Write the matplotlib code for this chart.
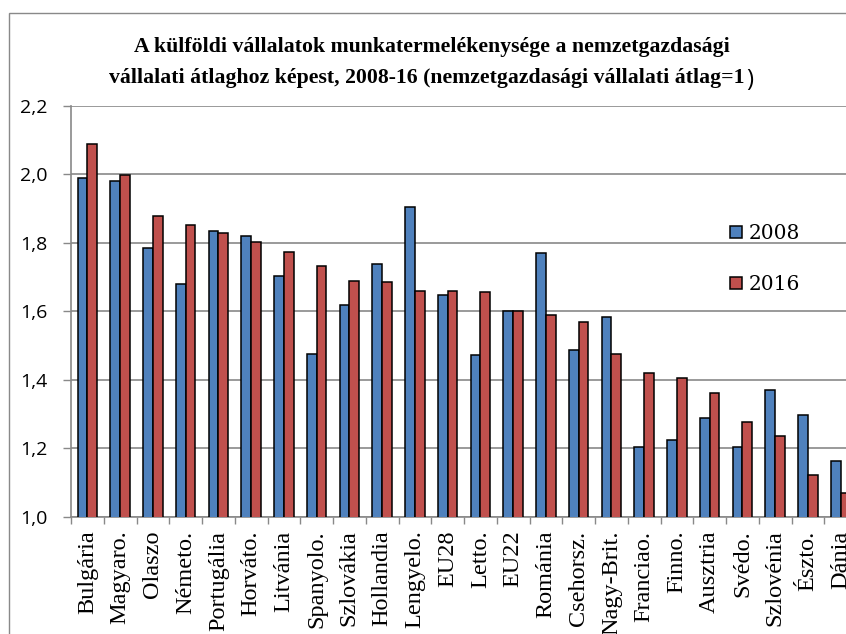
import numpy as np
import matplotlib
matplotlib.use("Agg")
import matplotlib.pyplot as plt
from matplotlib.lines import Line2D
from matplotlib.patches import Rectangle

countries = ["Bulgária", "Magyaro.", "Olaszo", "Németo.", "Portugália", "Horváto.", "Litvánia",
             "Spanyolo.", "Szlovákia", "Hollandia", "Lengyelo.", "EU28", "Letto.", "EU22",
             "Románia", "Csehorsz.", "Nagy-Brit.", "Franciao.", "Finno.", "Ausztria", "Svédo.",
             "Szlovénia", "Észto.", "Dánia"]
v2008 = [1.990, 1.980, 1.785, 1.679, 1.835, 1.820, 1.703, 1.476, 1.619, 1.738, 1.904, 1.647,
         1.473, 1.600, 1.770, 1.487, 1.583, 1.204, 1.225, 1.288, 1.203, 1.370, 1.296, 1.162]
v2016 = [2.088, 1.998, 1.878, 1.852, 1.827, 1.802, 1.773, 1.732, 1.688, 1.685, 1.660, 1.660,
         1.656, 1.600, 1.589, 1.568, 1.476, 1.419, 1.406, 1.362, 1.277, 1.236, 1.122, 1.069]
years = ["2008", "2016"]
yticks = [1.0, 1.2, 1.4, 1.6, 1.8, 2.0, 2.2]

title1 = "A külföldi vállalatok munkatermelékenysége a nemzetgazdasági"
title2 = "vállalati átlaghoz képest, 2008-16 (nemzetgazdasági vállalati átlag=1"

BLUE = "#4F81BD"
RED = "#C0504D"
GRAY = "#898989"
W, H = 846, 634

fig = plt.figure(figsize=(W / 100, H / 100), dpi=100)
# the plot area runs past the right edge, like the cropped original
ax = fig.add_axes([71 / W, 117.3 / H, 786 / W, 411 / H])

x = np.arange(len(countries))
bw = 0.3
ax.bar(x - bw / 2, v2008, bw, color=BLUE, edgecolor="black", linewidth=1.1, zorder=3)
ax.bar(x + bw / 2, v2016, bw, color=RED, edgecolor="black", linewidth=1.1, zorder=3)

ax.set_xlim(-0.5, len(countries) - 0.5)
ax.set_ylim(1.0, 2.2)
ax.set_yticks(yticks)
ax.set_yticklabels([f"{t:.1f}".replace(".", ",") for t in yticks],
                   fontfamily="Open Sans", fontsize=14)
ax.set_xticks(x)
ax.set_xticklabels(countries, rotation=90, fontfamily="Liberation Serif", fontsize=17.5)
ax.set_xticks(np.arange(-0.5, len(countries), 1), minor=True)
ax.tick_params(axis="x", which="major", length=0, pad=10)
ax.tick_params(axis="x", which="minor", length=5, color=GRAY, width=1)
ax.tick_params(axis="y", length=5.5, color=GRAY, width=1, pad=11.5)

ax.yaxis.grid(True, color=GRAY, linewidth=1.2)
ax.set_axisbelow(True)
for s in ["top", "right"]:
    ax.spines[s].set_visible(False)
for s in ["left", "bottom"]:
    ax.spines[s].set_color(GRAY)
    ax.spines[s].set_linewidth(1.2)

# outer chart frame
fig.add_artist(Rectangle((9 / W, -0.05), 1.0, (H - 13.3) / H + 0.05, transform=fig.transFigure,
                         fill=False, edgecolor=GRAY, linewidth=1))

fig.text(432 / W, 1 - 51.7 / H, title1, ha="center", va="baseline",
         fontfamily="Liberation Serif", fontweight="bold", fontsize=15.7)
t2 = fig.text(426.5 / W, 1 - 83.3 / H, title2, ha="center", va="baseline",
              fontfamily="Liberation Serif", fontweight="bold", fontsize=15.7)
fig.canvas.draw()
bb = t2.get_window_extent()
fig.text((bb.x1 + 2) / W, 1 - 86 / H, ")", ha="left", va="baseline",
         fontfamily="Open Sans", fontsize=17)

handles = [Line2D([], [], linestyle="none", marker="s", markersize=8.8,
                  markerfacecolor=c, markeredgecolor="black", markeredgewidth=1.1)
           for c in (BLUE, RED)]
fig.legend(handles, years, loc="upper left", bbox_to_anchor=(718 / W, 1 - 214 / H),
           frameon=False, borderpad=0, handlelength=0.8, handletextpad=0.2,
           labelspacing=1.6, prop={"family": "DejaVu Serif", "size": 14.5})

fig.savefig("out.png", dpi=100)
